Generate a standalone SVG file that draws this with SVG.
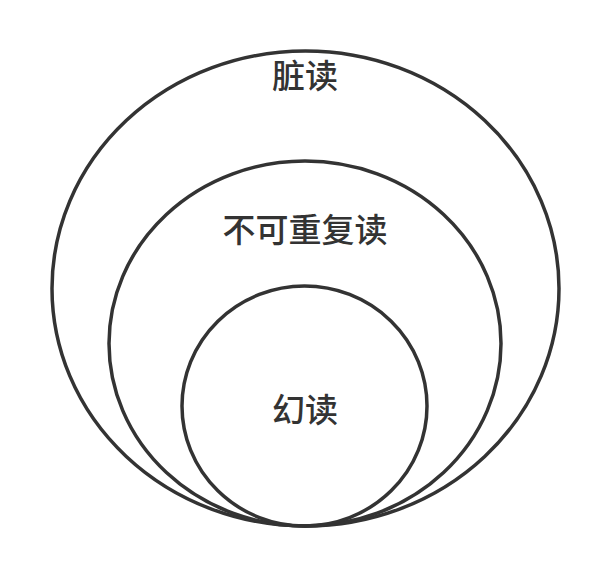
<svg xmlns="http://www.w3.org/2000/svg" width="610" height="578" viewBox="0 0 610 578">
  <style>
    .ring { fill: none; stroke: #333333; stroke-width: 3.5; }
    .label { font-family: "Noto Sans CJK SC", "Noto Sans", sans-serif; font-size: 33px; font-weight: 500; fill: #333333; text-anchor: middle; }
  </style>
  <rect width="610" height="578" fill="#ffffff"/>
  <g id="dirty-read">
    <ellipse class="ring" cx="305.5" cy="288.5" rx="253.5" ry="237.5"/>
    <text class="label" x="305" y="87.5">脏读</text>
  </g>
  <g id="non-repeatable-read">
    <ellipse class="ring" cx="305" cy="343.5" rx="196" ry="182.5"/>
    <text class="label" x="305" y="241.5">不可重复读</text>
  </g>
  <g id="phantom-read">
    <ellipse class="ring" cx="304.5" cy="406" rx="122.5" ry="120"/>
    <text class="label" x="305" y="421.5">幻读</text>
  </g>
</svg>
